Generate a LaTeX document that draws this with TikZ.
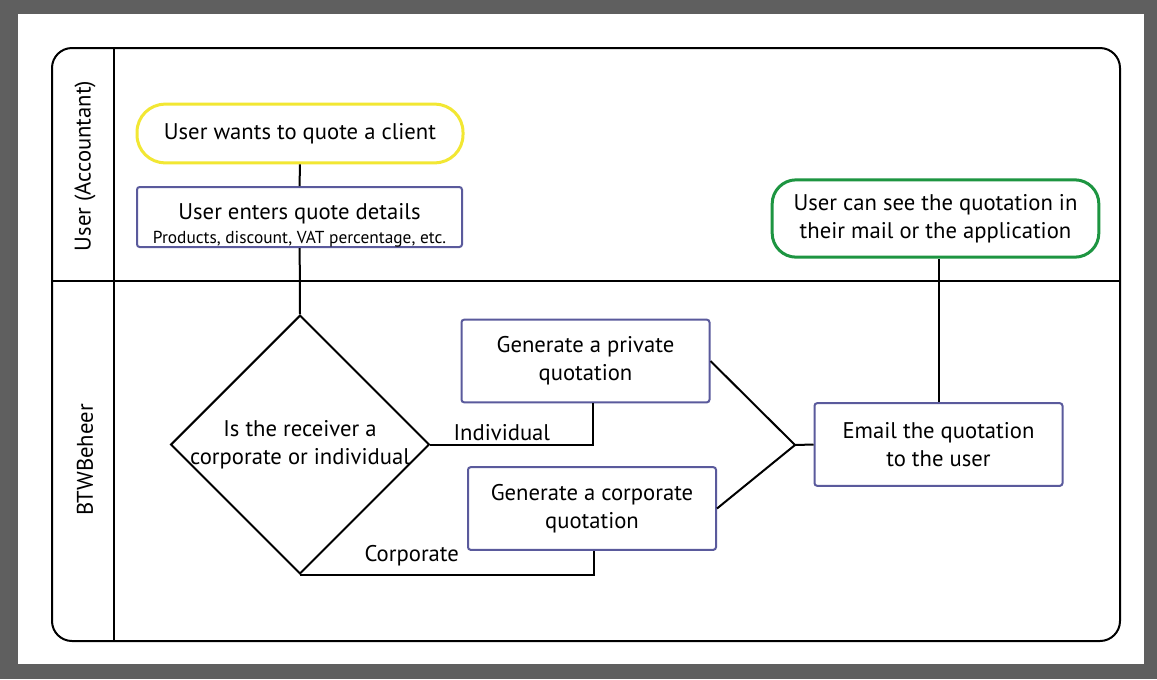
\documentclass[tikz,border=0pt]{standalone}
\usepackage{fontspec}
\setmainfont{PT Sans}
\usetikzlibrary{shapes.geometric}
\definecolor{framegray}{HTML}{5F5F5F}
\definecolor{startyellow}{HTML}{F2E733}
\definecolor{endgreen}{HTML}{1D9541}
\definecolor{taskblue}{HTML}{5A5A9C}

\begin{document}
\begin{tikzpicture}[
  x=.75pt,y=-.75pt,
  base/.style={align=center,font=\fontsize{17}{21}\selectfont,inner sep=2pt},
  task/.style={base,draw=taskblue,line width=1.5pt,rounded corners=2pt,
    minimum width=186pt,minimum height=62pt},
  start/.style={base,draw=startyellow,line width=2.25pt,rounded corners=21pt,
    minimum width=244.5pt,minimum height=44pt},
  finish/.style={base,draw=endgreen,line width=2.25pt,rounded corners=18pt,
    minimum width=245pt,minimum height=58pt},
  decision/.style={diamond,draw,line width=1.5pt,minimum width=194pt,
    minimum height=194pt,inner sep=0pt},
  flow/.style={draw,line width=1.5pt},
  lane/.style={draw,line width=1.5pt},
  lanelabel/.style={base,rotate=90}
]

% frame and swimlanes
\fill[framegray] (0,0) rectangle (1157,679);
\fill[white] (18,14) rectangle (1144,664);
\draw[lane,rounded corners=15pt] (52,48) rectangle (1120,641);
\draw[lane] (114,48) -- (114,641);
\draw[lane] (52,281) -- (1120,281);
\node[lanelabel] (userlane) at (85,166) {User (Accountant)};
\node[lanelabel] (systemlane) at (85,460) {BTWBeheer};

% user lane
\node[start] (quote) at (300,133.5) {User wants to quote a client};
\node[task,minimum width=243.75pt,minimum height=45pt,
  label={[base,yshift=-6pt]center:User enters quote details\\[-3pt]{\fontsize{13}{15}\selectfont Products, discount, VAT percentage, etc.}}]
  (details) at (299.5,217) {};
\node[finish] (seen) at (935.5,218.5) {User can see the quotation in\\their mail or the application};

% system lane
\node[decision,label={[base]center:Is the receiver a\\corporate or individual}] (receiver) at (300,444.5) {};
\node[task] (private) at (585.5,361) {Generate a private\\quotation};
\node[task] (corporate) at (592,508.5) {Generate a corporate\\quotation};
\node[task] (email) at (938.5,444.5) {Email the quotation\\to the user};
\coordinate (merge) at (795,445);

\draw[flow] (quote) -- (details);
\draw[flow] (details) -- (receiver.north);
\draw[flow] (receiver.east) -| node[base,above,pos=.22] {Individual} ([xshift=5.5pt]private.south);
\draw[flow] (receiver.south) -| node[base,above=4pt,pos=.19] {Corporate} ([xshift=1.5pt]corporate.south);
\draw[flow] (private.east) -- (merge);
\draw[flow] (corporate.east) -- (merge);
\draw[flow] (merge) -- (email.west);
\draw[flow] (email.north) -- (email.north |- seen.south);
\end{tikzpicture}
\end{document}
